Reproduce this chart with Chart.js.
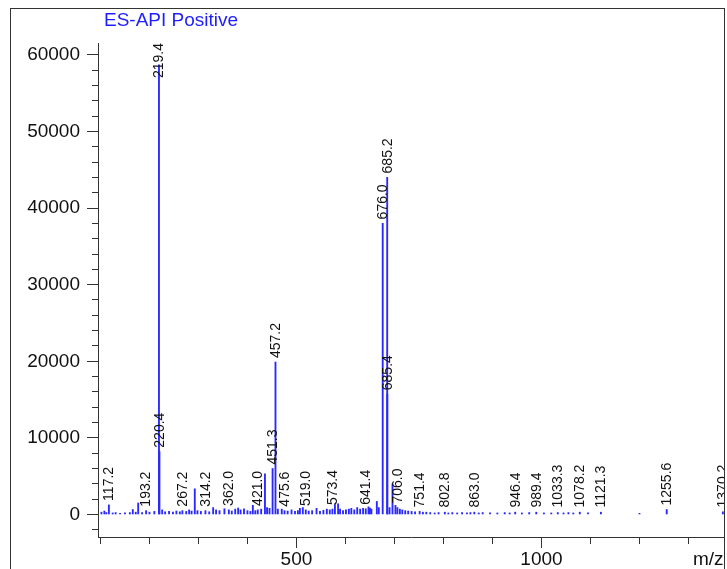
<!DOCTYPE html>
<html>
<head>
<meta charset="utf-8">
<script src="https://cdn.jsdelivr.net/npm/chart.js@4/dist/chart.umd.min.js"></script>
<style>
  body { margin: 0; background: #fff; }
  #frame { position: absolute; left: 10px; top: 8px; width: 713px; height: 600px;
           border: 1px solid #333; overflow: hidden; }
  #frame canvas { position: absolute; left: 0; top: 0; }
</style>
</head>
<body>
<div id="frame"><canvas id="ms" width="713" height="561"></canvas></div>
<script>
// spectrum: m/z and intensity of each stick
var mz = [102, 108, 112, 117.2, 125, 131, 140, 150, 160, 166, 172, 177, 185, 193.2, 200, 210,
  219.4, 220.4, 226, 232, 240, 248, 255, 262, 267.2, 275, 281, 286, 292.5, 298, 305, 314.2,
  322, 330, 336, 343, 353, 362.0, 368, 375, 381, 386, 393, 400, 406, 411, 416, 421.0, 428,
  435.7, 440, 445, 451.3, 457.2, 462, 470, 475.6, 482, 490, 497, 503, 507, 513, 519.0, 525,
  532, 541, 548, 555, 562, 568, 573.4, 578.5, 585, 589, 595, 601, 607, 612, 618, 624, 630,
  636, 641.4, 647, 650, 653, 664, 668, 676.0, 685.2, 685.4, 690, 696, 702, 706.0, 711, 716,
  722, 728, 735, 742, 751.4, 758, 765, 773, 782, 790, 802.8, 810, 818, 828, 838, 848, 855,
  863.0, 872, 880, 895, 910, 925, 935, 946.4, 960, 975, 989.4, 1005, 1020, 1033.3, 1045,
  1055, 1065, 1078.2, 1095, 1121.3, 1200, 1255.6, 1370.2];
var intensity = [300, 450, 250, 1250, 200, 250, 150, 200, 250, 650, 300, 1500, 250, 500, 300, 400,
  58700, 8200, 600, 350, 400, 300, 450, 350, 500, 400, 600, 450, 3350, 500, 400, 500,
  350, 900, 600, 500, 750, 600, 450, 700, 850, 600, 750, 500, 400, 1200, 500, 600, 700,
  5300, 900, 800, 6000, 19900, 700, 700, 500, 450, 600, 400, 500, 800, 900, 600, 450,
  500, 800, 400, 550, 700, 600, 700, 1300, 1400, 700, 500, 600, 700, 800, 600, 900, 700,
  800, 750, 1000, 850, 700, 1700, 900, 38000, 44000, 15700, 900, 4000, 1200, 900, 700, 600,
  500, 450, 400, 350, 400, 300, 300, 250, 200, 250, 300, 200, 250, 200, 250, 200, 250,
  300, 200, 250, 200, 200, 250, 200, 300, 200, 250, 300, 200, 200, 250, 200,
  250, 200, 300, 200, 300, 150, 650, 350];
// peaks that carry a label
var labelled = [117.2, 193.2, 219.4, 220.4, 267.2, 314.2, 362.0, 421.0, 451.3, 457.2, 475.6,
  519.0, 573.4, 641.4, 676.0, 685.2, 685.4, 706.0, 751.4, 802.8, 863.0, 946.4, 989.4,
  1033.3, 1078.2, 1121.3, 1255.6, 1370.2];
var xLabelled = [500, 1000];
var yMajor = 10000, yMinor = 2000, xMinor = 100;
var xMin = 95, xMax = 1372.5, yMin = -2940, yMax = 61550;

var FONT = "'Liberation Sans', Arial, sans-serif";

function tickList(lo, hi, step) {
  var out = [];
  for (var v = Math.ceil(lo / step) * step; v <= hi; v += step) out.push({value: v});
  return out;
}

var peakLabels = {
  id: 'peakLabels',
  afterDatasetsDraw(chart) {
    var ctx = chart.ctx, xs = chart.scales.x, ys = chart.scales.y;
    var top = chart.chartArea.top, y0 = ys.getPixelForValue(0);
    ctx.save();
    ctx.font = '14px ' + FONT;
    ctx.fillStyle = '#111';
    ctx.textAlign = 'left';
    ctx.textBaseline = 'middle';
    labelled.forEach(m => {
      var i = mz.indexOf(m);
      var txt = m.toFixed(1);
      var w = ctx.measureText(txt).width;
      var x = xs.getPixelForValue(m);
      var yb = Math.min(ys.getPixelForValue(intensity[i]) - 4, y0 - 7);
      yb = Math.max(yb, top + w);
      ctx.save();
      ctx.translate(x + 0.5, yb);
      ctx.rotate(-Math.PI / 2);
      ctx.fillText(txt, 0, 0);
      ctx.restore();
    });
    // title and axis unit
    ctx.font = '19px ' + FONT;
    ctx.fillStyle = 'rgb(30,30,255)';
    ctx.fillText('ES-API Positive', 93, 12);
    ctx.fillStyle = '#111';
    ctx.fillText('m/z', 682, 551);
    ctx.restore();
  }
};

new Chart(document.getElementById('ms'), {
  type: 'bar',
  data: {
    datasets: [{
      data: mz.map((m, i) => ({x: m, y: intensity[i]})),
      backgroundColor: 'rgb(40,40,255)',
      barThickness: 1.2,
      grouped: false
    }]
  },
  options: {
    responsive: false,
    animation: false,
    devicePixelRatio: 1,
    layout: {padding: {top: 34, left: 0, right: 0, bottom: 0}},
    plugins: {legend: {display: false}, tooltip: {enabled: false}},
    scales: {
      x: {
        type: 'linear',
        offset: false,
        min: xMin, max: xMax,
        afterBuildTicks: s => { s.ticks = tickList(xMin, xMax, xMinor); },
        afterFit: s => { s.height = 33; },
        border: {display: true, color: '#333', width: 1},
        grid: {
          offset: false,
          drawOnChartArea: false, drawTicks: true, tickLength: 11, color: '#333',
          tickBorderDash: c => (c.tick && xLabelled.includes(c.tick.value)) ? [] : [6, 100]
        },
        ticks: {
          autoSkip: false, maxRotation: 0,
          padding: 0, color: '#111', font: {family: FONT, size: 19},
          callback: v => xLabelled.includes(v) ? String(v) : ''
        }
      },
      y: {
        min: yMin, max: yMax,
        afterBuildTicks: s => { s.ticks = tickList(yMin, yMax, yMinor); },
        afterFit: s => { s.width = 87; },
        border: {display: true, color: '#333', width: 1},
        grid: {
          drawOnChartArea: false, drawTicks: true, tickLength: 11, color: '#333',
          tickBorderDash: c => (c.tick && c.tick.value % yMajor === 0) ? [] : [0, 5, 6, 100]
        },
        ticks: {
          autoSkip: false,
          padding: 7, color: '#111', font: {family: FONT, size: 19},
          callback: v => v % yMajor === 0 ? String(v) : ''
        }
      }
    }
  },
  plugins: [peakLabels]
});
</script>
</body>
</html>
